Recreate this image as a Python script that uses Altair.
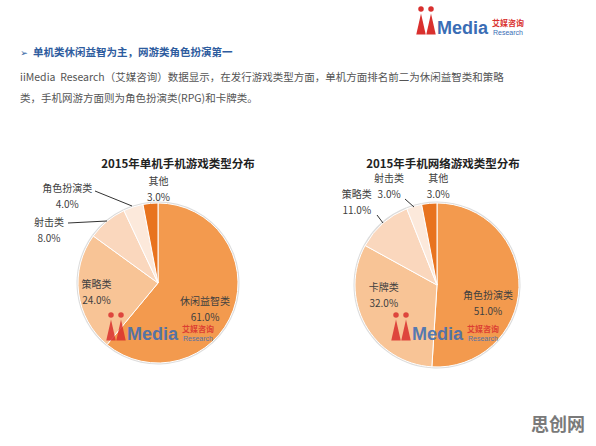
import altair as alt
import pandas as pd

# ---------------- data ----------------
title1 = "2015年单机手机游戏类型分布"
cats1 = ["休闲益智类", "策略类", "射击类", "角色扮演类", "其他"]
vals1 = [61.0, 24.0, 8.0, 4.0, 3.0]

title2 = "2015年手机网络游戏类型分布"
cats2 = ["角色扮演类", "卡牌类", "策略类", "射击类", "其他"]
vals2 = [51.0, 32.0, 11.0, 3.0, 3.0]

heading = "单机类休闲益智为主，网游类角色扮演第一"
para1 = "iiMedia\u00a0 Research（艾媒咨询）数据显示，在发行游戏类型方面，单机方面排名前二为休闲益智类和策略"
para2 = "类，手机网游方面则为角色扮演类(RPG)和卡牌类。"
watermark = "思创网"

# ---------------- styles ----------------
palette = ["#F39A4E", "#F8C496", "#FAD7BD", "#FCE9DB", "#E8731E"]
FONT = "Noto Sans CJK SC"
LABEL_COLOR = "#404040"
RED = "#D9302E"
BLUE = "#3A6DB5"


def pie_df(cats, vals):
    return pd.DataFrame({
        "cat": cats,
        "val": vals,
        "idx": list(range(len(cats))),
        "color": palette[: len(cats)],
        "label": [f"{c}\n{v:.1f}%" for c, v in zip(cats, vals)],
    })


def txt(s, x, y, **kw):
    kw.setdefault("font", FONT)
    return alt.Chart(pd.DataFrame({"t": [s]})).mark_text(**kw).encode(
        x=alt.value(x), y=alt.value(y), text="t:N"
    )


def leader(x1, y1, x2, y2):
    return alt.Chart(pd.DataFrame({"a": [0]})).mark_rule(
        color="#333333", strokeWidth=1
    ).encode(x=alt.value(x1), y=alt.value(y1), x2=alt.value(x2), y2=alt.value(y2))


def pie_layers(df, cx, cy, r, label_specs):
    theta = alt.Theta("val:Q", stack=True)
    order = alt.Order("idx:Q")
    base = alt.Chart(df)
    layers = [
        base.mark_arc(outerRadius=r + 1.5, color="#dcdcdc").encode(
            theta=theta, order=order, x=alt.value(cx), y=alt.value(cy)
        ),
        base.mark_arc(outerRadius=r, stroke="white", strokeWidth=1).encode(
            theta=theta, order=order,
            color=alt.Color("color:N", scale=None),
            x=alt.value(cx), y=alt.value(cy),
        ),
    ]
    for cat, rad, dx, dy in label_specs:
        layers.append(
            base.mark_text(
                radius=rad, dx=dx, dy=dy - 8, font=FONT, fontSize=10,
                color=LABEL_COLOR, align="center", baseline="middle",
                lineBreak="\n", lineHeight=16,
            ).encode(
                theta=theta, order=order,
                x=alt.value(cx), y=alt.value(cy),
                text=alt.condition(alt.datum.cat == cat, "label:N", alt.value("")),
            )
        )
    return layers


def logo(x0, y0, scale=1.0, opacity=1.0):
    """iiMedia logo; (x0, y0) = left edge of the figures / baseline of 'Media'."""
    s = scale
    body = "M0,-1L0.45,1L-0.45,1Z"
    figs = pd.DataFrame({"k": [0, 1]})
    out = []
    for i, fx in enumerate([x0 + 5 * s, x0 + 15 * s]):
        out.append(alt.Chart(figs.iloc[[i]]).mark_point(
            shape="circle", filled=True, color=RED, size=(5.5 * s) ** 2,
            opacity=opacity).encode(x=alt.value(fx), y=alt.value(y0 - 25 * s)))
        out.append(alt.Chart(figs.iloc[[i]]).mark_point(
            shape=body, filled=True, color=RED, size=(21 * s) ** 2,
            opacity=opacity).encode(x=alt.value(fx), y=alt.value(y0 - 10 * s)))
    out.append(txt("Media", x0 + 21 * s, y0, font="Liberation Sans", fontSize=18 * s,
                   fontWeight="bold", color=BLUE, align="left", baseline="alphabetic",
                   opacity=opacity))
    out.append(txt("艾媒咨询", x0 + 76 * s, y0 - 8 * s, fontSize=8 * s, fontWeight="bold",
                   color=RED, align="left", baseline="alphabetic", opacity=opacity))
    out.append(txt("Research", x0 + 77 * s, y0 + 0.5 * s, font="Liberation Sans",
                   fontSize=7 * s, color=BLUE, align="left", baseline="alphabetic",
                   opacity=opacity))
    return out


df1 = pie_df(cats1, vals1)
df2 = pie_df(cats2, vals2)

layers = []
# header
layers += logo(416, 34)
layers.append(txt("➢", 24, 53, font="DejaVu Sans", fontSize=9, color="#2E5C9E",
                  align="center", baseline="middle"))
layers.append(txt(heading, 33, 53, fontSize=10.5, fontWeight="bold", color="#2E5C9E",
                  align="left", baseline="middle"))
layers.append(txt(para1, 20, 78, fontSize=10.5, color="#555555", align="left",
                  baseline="middle"))
layers.append(txt(para2, 20, 99, fontSize=10.5, color="#555555", align="left",
                  baseline="middle"))

# pie 1
cx1, cy1, r1 = 158, 283, 80
layers += pie_layers(df1, cx1, cy1, r1, [
    ("休闲益智类", 50, 0, 10),
    ("策略类", 62, 0, 2),
    ("射击类", 80, -58, 10),
    ("角色扮演类", 80, -66, -10),
    ("其他", 80, 8, -13),
])
layers.append(leader(95, 191, 132, 206))
layers.append(leader(68, 223, 107, 221))
layers.append(txt(title1, 178, 165, fontSize=11.5, fontWeight="bold", color="#222222",
                  align="center", baseline="middle"))
layers += logo(106, 340, scale=1.0, opacity=0.85)

# pie 2
cx2, cy2, r2 = 437, 285, 82
layers += pie_layers(df2, cx2, cy2, r2, [
    ("角色扮演类", 51, 0, 17),
    ("卡牌类", 55, -5, -15),
    ("策略类", 82, -26, -20),
    ("射击类", 82, -25, -19),
    ("其他", 82, 9, -16),
])
layers.append(leader(405, 199, 414, 207))
layers.append(leader(377, 215, 383, 223))
layers.append(txt(title2, 443, 165, fontSize=11.5, fontWeight="bold", color="#222222",
                  align="center", baseline="middle"))
layers += logo(391, 340, scale=1.0, opacity=0.85)

# bottom-right watermark
layers.append(txt(watermark, 558, 426, fontSize=18, fontWeight="bold", color="#7a7a7a",
                  align="center", baseline="middle"))

chart = alt.layer(*layers).properties(
    width=596, height=446, autosize="none", padding=0, background="white"
).configure_view(stroke=None)

chart.save("out.html", embed_options={"renderer": "svg", "actions": False})
